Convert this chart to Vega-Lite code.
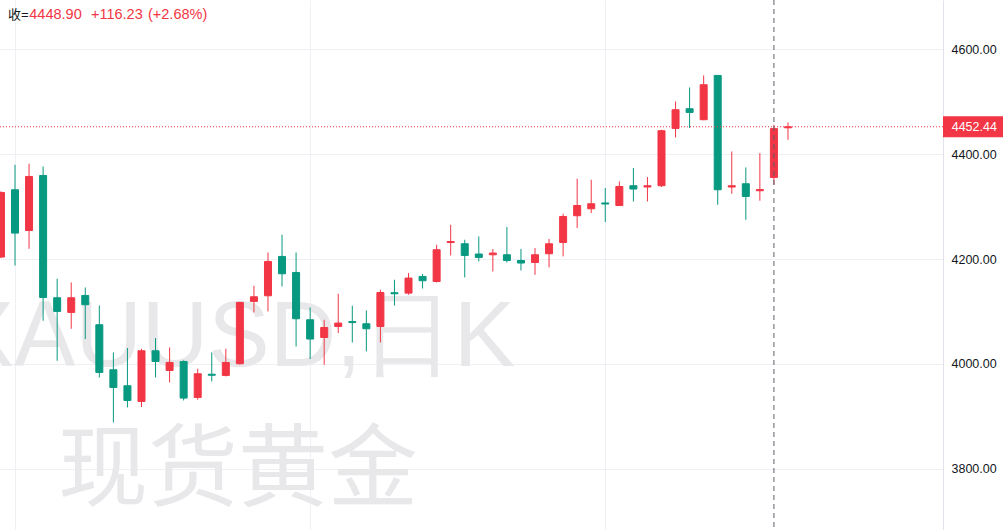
{
  "$schema": "https://vega.github.io/schema/vega-lite/v6.json",
  "width": 943,
  "height": 530,
  "autosize": {"type": "none"},
  "padding": {"left": 0, "right": 60, "top": 0, "bottom": 0},
  "background": "#ffffff",
  "config": {"view": {"stroke": null}, "font": "Liberation Sans"},
  "datasets": {
    "ohlc": [
      {"i":0,"open":4203.7,"high":4329,"low":4202,"close":4327.1},
      {"i":1,"open":4332.2,"high":4380.0,"low":4187.7,"close":4249.5},
      {"i":2,"open":4254.5,"high":4381.9,"low":4219.6,"close":4357.6},
      {"i":3,"open":4359.5,"high":4376.7,"low":4082.1,"close":4126.6},
      {"i":4,"open":4126.0,"high":4162.3,"low":4005.7,"close":4099.9},
      {"i":5,"open":4098.0,"high":4155.2,"low":4066.8,"close":4126.0},
      {"i":6,"open":4130.4,"high":4145.7,"low":4047.2,"close":4112.7},
      {"i":7,"open":4074.5,"high":4111.3,"low":3973.8,"close":3983.4},
      {"i":8,"open":3988.5,"high":4021.6,"low":3887.9,"close":3954.8},
      {"i":9,"open":3958.0,"high":4030.0,"low":3916.6,"close":3929.9},
      {"i":10,"open":3928.0,"high":4028.6,"low":3917.3,"close":4024.8},
      {"i":11,"open":4024.8,"high":4049.1,"low":3973.8,"close":4004.4},
      {"i":12,"open":3987.2,"high":4031.1,"low":3964.3,"close":4002.5},
      {"i":13,"open":4004.4,"high":4006.5,"low":3929.9,"close":3934.5},
      {"i":14,"open":3935.7,"high":3990.5,"low":3931.3,"close":3980.9},
      {"i":15,"open":3980.0,"high":4021.6,"low":3966.2,"close":3978.0},
      {"i":16,"open":3977.7,"high":4028.6,"low":3975.8,"close":4002.5},
      {"i":17,"open":4000.0,"high":4118.5,"low":3998.5,"close":4117.0},
      {"i":18,"open":4119.0,"high":4148.9,"low":4098.0,"close":4127.9},
      {"i":19,"open":4129.8,"high":4212.5,"low":4099.9,"close":4195.3},
      {"i":20,"open":4204.9,"high":4246.3,"low":4147.6,"close":4171.8},
      {"i":21,"open":4174.3,"high":4212.5,"low":4033.0,"close":4085.9},
      {"i":22,"open":4084.0,"high":4107.5,"low":4009.0,"close":4047.2},
      {"i":23,"open":4050.2,"high":4084.0,"low":3998.1,"close":4069.3},
      {"i":24,"open":4071.2,"high":4133.7,"low":4058.6,"close":4077.7},
      {"i":25,"open":4080.6,"high":4110.7,"low":4040.7,"close":4078.6},
      {"i":26,"open":4076.4,"high":4101.8,"low":4023.5,"close":4066.8},
      {"i":27,"open":4071.2,"high":4141.3,"low":4040.7,"close":4136.1},
      {"i":28,"open":4135.6,"high":4160.4,"low":4111.3,"close":4133.6},
      {"i":29,"open":4134.9,"high":4173.2,"low":4131.7,"close":4163.6},
      {"i":30,"open":4166.7,"high":4171.3,"low":4143.8,"close":4158.5},
      {"i":31,"open":4157.1,"high":4227.2,"low":4155.2,"close":4217.7},
      {"i":32,"open":4231.4,"high":4265.4,"low":4206.8,"close":4233.4},
      {"i":33,"open":4229.1,"high":4236.8,"low":4164.8,"close":4206.8},
      {"i":34,"open":4209.5,"high":4243.1,"low":4195.3,"close":4203.0},
      {"i":35,"open":4208.1,"high":4219.0,"low":4176.2,"close":4211.4},
      {"i":36,"open":4208.1,"high":4261.0,"low":4193.4,"close":4197.2},
      {"i":37,"open":4197.2,"high":4219.2,"low":4178.1,"close":4192.3},
      {"i":38,"open":4193.4,"high":4220.9,"low":4169.9,"close":4208.1},
      {"i":39,"open":4210.0,"high":4238.3,"low":4183.9,"close":4229.1},
      {"i":40,"open":4231.6,"high":4286.4,"low":4204.9,"close":4281.2},
      {"i":41,"open":4282.6,"high":4353.2,"low":4259.1,"close":4302.2},
      {"i":42,"open":4295.9,"high":4351.3,"low":4287.7,"close":4305.5},
      {"i":43,"open":4307.0,"high":4335.5,"low":4270.5,"close":4305.0},
      {"i":44,"open":4302.2,"high":4348.1,"low":4301.0,"close":4338.5},
      {"i":45,"open":4339.9,"high":4373.7,"low":4309.9,"close":4333.6},
      {"i":46,"open":4337.5,"high":4356.5,"low":4309.9,"close":4339.9},
      {"i":47,"open":4339.9,"high":4446.8,"low":4337.4,"close":4444.9},
      {"i":48,"open":4449.3,"high":4500.8,"low":4432.1,"close":4485.0},
      {"i":49,"open":4486.9,"high":4527.5,"low":4450.0,"close":4479.8},
      {"i":50,"open":4465.9,"high":4550.5,"low":4465.0,"close":4532.7},
      {"i":51,"open":4550.5,"high":4550.5,"low":4303.6,"close":4332.2},
      {"i":52,"open":4337.4,"high":4405.3,"low":4324.6,"close":4339.9},
      {"i":53,"open":4343.7,"high":4374.8,"low":4274.9,"close":4319.4},
      {"i":54,"open":4330.3,"high":4402.3,"low":4311.2,"close":4332.67},
      {"i":55,"open":4355.7,"high":4456.3,"low":4341.8,"close":4448.9},
      {"i":56,"open":4450.5,"high":4460.7,"low":4427.7,"close":4452.44}
    ],
    "one": [{}]
  },
  "layer": [
    {
      "data": {"name": "one"},
      "mark": {"type": "text", "align": "right", "baseline": "alphabetic", "fontSize": 92, "color": "#e8e8ea", "font": "Liberation Sans"},
      "encoding": {
        "x": {"datum": 36.58, "type": "quantitative", "scale": {"domain": [-0.0676, 67.03], "nice": false, "zero": false, "padding": 0}, "axis": {"values": [1, 22, 43], "grid": true, "gridColor": "#eef0f4", "labels": false, "ticks": false, "domain": false, "title": null}},
        "y": {"datum": 3996.2, "type": "quantitative", "scale": {"domain": [3682.6, 4694.5], "nice": false, "zero": false, "padding": 0}, "axis": {"orient": "right", "values": [3800, 4000, 4200, 4400, 4600], "format": ".2f", "grid": true, "gridColor": "#eef0f4", "ticks": false, "domain": true, "domainColor": "#e0e3eb", "labelPadding": 8, "labelFontSize": 12.5, "labelColor": "#131722", "labelFont": "Liberation Sans", "labelOverlap": false, "title": null}},
        "text": {"value": "XAUUSD,日K"}
      }
    },
    {
      "data": {"name": "one"},
      "mark": {"type": "text", "align": "left", "baseline": "alphabetic", "fontSize": 90, "color": "#e8e8ea", "font": "Noto Sans CJK SC"},
      "encoding": {
        "x": {"datum": 4.06, "type": "quantitative"},
        "y": {"datum": 3742.3, "type": "quantitative"},
        "text": {"value": "现货黄金"}
      }
    },
    {
      "data": {"name": "ohlc"},
      "mark": {"type": "rule", "strokeWidth": 1},
      "encoding": {
        "x": {"field": "i", "type": "quantitative"},
        "y": {"field": "low", "type": "quantitative"},
        "y2": {"field": "high"},
        "color": {"condition": {"test": "datum.close >= datum.open", "value": "#f23645"}, "value": "#089981"}
      }
    },
    {
      "data": {"name": "ohlc"},
      "mark": {"type": "bar", "width": 7, "strokeWidth": 1},
      "encoding": {
        "x": {"field": "i", "type": "quantitative"},
        "y": {"field": "open", "type": "quantitative"},
        "y2": {"field": "close"},
        "color": {"condition": {"test": "datum.close >= datum.open", "value": "#f23645"}, "value": "#089981"},
        "stroke": {"condition": {"test": "datum.close >= datum.open", "value": "#f23645"}, "value": "#089981"}
      }
    },
    {
      "data": {"name": "one"},
      "mark": {"type": "rule", "color": "#f23645", "strokeWidth": 1, "strokeDash": [1, 2]},
      "encoding": {"y": {"datum": 4452.44, "type": "quantitative"}}
    },
    {
      "data": {"name": "one"},
      "mark": {"type": "rule", "color": "#5d606b", "strokeWidth": 1, "strokeDash": [5, 4]},
      "encoding": {"x": {"datum": 55, "type": "quantitative"}}
    },
    {
      "data": {"name": "one"},
      "mark": {"type": "rect", "color": "#f23645"},
      "encoding": {
        "x": {"datum": 67.03, "type": "quantitative"},
        "x2": {"datum": 71.4},
        "y": {"datum": 4472.5, "type": "quantitative"},
        "y2": {"datum": 4432.4}
      }
    },
    {
      "data": {"name": "one"},
      "mark": {"type": "text", "align": "left", "baseline": "middle", "fontSize": 12.5, "color": "#ffffff", "font": "Liberation Sans"},
      "encoding": {
        "x": {"datum": 67.65, "type": "quantitative"},
        "y": {"datum": 4452.44, "type": "quantitative"},
        "text": {"value": "4452.44"}
      }
    },
    {
      "data": {"name": "one"},
      "mark": {"type": "text", "align": "left", "baseline": "middle", "fontSize": 13, "color": "#131722", "font": "Liberation Sans, Noto Sans CJK SC"},
      "encoding": {
        "x": {"datum": 0.5, "type": "quantitative"},
        "y": {"datum": 4665.8, "type": "quantitative"},
        "text": {"value": "收="}
      }
    },
    {
      "data": {"name": "one"},
      "mark": {"type": "text", "align": "left", "baseline": "middle", "fontSize": 14.5, "color": "#f23645", "font": "Liberation Sans"},
      "encoding": {
        "x": {"datum": 2.017, "type": "quantitative"},
        "y": {"datum": 4665.8, "type": "quantitative"},
        "text": {"value": "4448.90"}
      }
    },
    {
      "data": {"name": "one"},
      "mark": {"type": "text", "align": "left", "baseline": "middle", "fontSize": 14.5, "color": "#f23645", "font": "Liberation Sans"},
      "encoding": {
        "x": {"datum": 6.407, "type": "quantitative"},
        "y": {"datum": 4665.8, "type": "quantitative"},
        "text": {"value": "+116.23"}
      }
    },
    {
      "data": {"name": "one"},
      "mark": {"type": "text", "align": "left", "baseline": "middle", "fontSize": 14.5, "color": "#f23645", "font": "Liberation Sans"},
      "encoding": {
        "x": {"datum": 10.463, "type": "quantitative"},
        "y": {"datum": 4665.8, "type": "quantitative"},
        "text": {"value": "(+2.68%)"}
      }
    }
  ]
}
